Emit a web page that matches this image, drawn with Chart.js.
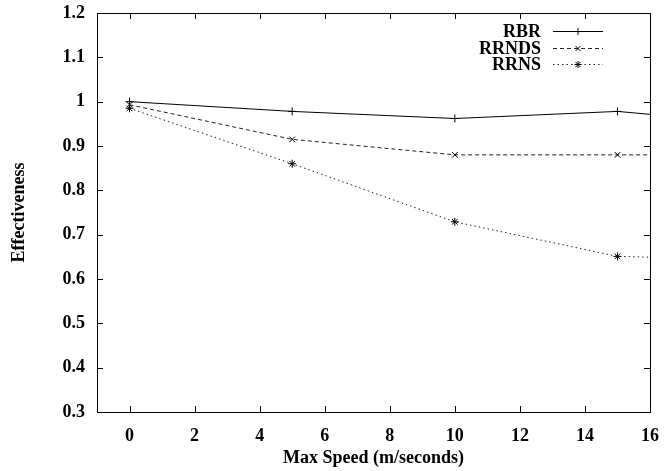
<!DOCTYPE html>
<html>
<head>
<meta charset="utf-8">
<script src="https://cdn.jsdelivr.net/npm/chart.js@4.4.1/dist/chart.umd.min.js"></script>
<style>
  html, body { margin: 0; padding: 0; background: #fff; }
  #wrap { width: 672px; height: 471px; }
</style>
</head>
<body>
<div id="wrap"><canvas id="myChart" width="672" height="471"></canvas></div>
<script>
// data (x = 20 is outside the axis, lines run out to the edge)
var speeds = [0, 5, 10, 15, 20]
var rbr = [1.0, 0.978, 0.962, 0.978, 0.945]
var rrnds = [0.993, 0.915, 0.88, 0.88, 0.88]
var rrns = [0.985, 0.86, 0.729, 0.651, 0.642]

var xTicks = [0, 2, 4, 6, 8, 10, 12, 14, 16]
var yTicks = [0.3, 0.4, 0.5, 0.6, 0.7, 0.8, 0.9, 1.0, 1.1, 1.2]

var font = 'Liberation Serif, Times New Roman, serif'

function pts(ys){
    return speeds.map((s, i) => ({x: s, y: ys[i]}))
}

var dataSets = [
    {label: 'RBR', data: pts(rbr), borderColor: '#000', borderDash: [], pointStyle: 'cross'},
    {label: 'RRNDS', data: pts(rrnds), borderColor: '#222', borderDash: [4, 3], pointStyle: 'crossRot'},
    {label: 'RRNS', data: pts(rrns), borderColor: '#222', borderDash: [1.5, 3], pointStyle: 'star'}
]
dataSets.forEach(d => {
    d.borderWidth = 1
    d.pointRadius = 4
    d.pointBorderWidth = 1
    d.pointBorderColor = '#000'
    d.pointBackgroundColor = 'transparent'
    d.fill = false
    d.tension = 0
})

// box round the plot and ticks pointing inward on every side
const frame = {
    id: 'frame',
    afterDraw(chart){
        const ctx = chart.ctx
        const a = chart.chartArea
        const x = chart.scales.x, y = chart.scales.y
        const L = 6
        ctx.save()
        ctx.strokeStyle = '#000'
        ctx.lineWidth = 1
        ctx.setLineDash([])
        ctx.strokeRect(a.left + 0.5, a.top + 0.5, a.right - a.left, a.bottom - a.top)
        ctx.beginPath()
        xTicks.forEach(v => {
            const px = Math.round(x.getPixelForValue(v)) + 0.5
            ctx.moveTo(px, a.bottom); ctx.lineTo(px, a.bottom - L)
            ctx.moveTo(px, a.top); ctx.lineTo(px, a.top + L)
        })
        yTicks.forEach(v => {
            const py = Math.round(y.getPixelForValue(v)) + 0.5
            ctx.moveTo(a.left, py); ctx.lineTo(a.left + L, py)
            ctx.moveTo(a.right, py); ctx.lineTo(a.right - L, py)
        })
        ctx.stroke()
        ctx.restore()
    }
}

// gnuplot style key: text on the left, line sample with marker on the right
const key = {
    id: 'key',
    afterDraw(chart){
        const ctx = chart.ctx
        const textRight = 541, lineL = 553, lineR = 603, top = 31, step = 16.5
        ctx.save()
        ctx.font = 'bold 18px ' + font
        ctx.textAlign = 'right'
        ctx.textBaseline = 'middle'
        ctx.fillStyle = '#000'
        chart.data.datasets.forEach((d, i) => {
            const yy = Math.round(top + i * step) + 0.5
            ctx.fillText(d.label, textRight, yy + 1)
            ctx.strokeStyle = d.borderColor
            ctx.lineWidth = 1
            ctx.setLineDash(d.borderDash)
            ctx.beginPath()
            ctx.moveTo(lineL, yy); ctx.lineTo(lineR, yy)
            ctx.stroke()
            ctx.setLineDash([])
            ctx.strokeStyle = '#000'
            Chart.helpers.drawPoint(ctx, {pointStyle: d.pointStyle, radius: 3.5, rotation: 0, borderWidth: 1}, (lineL + lineR) / 2, yy)
        })
        ctx.restore()
    }
}

const ctx = document.getElementById('myChart')

new Chart(ctx, {
    type: 'line',
    data: {datasets: dataSets},
    plugins: [frame, key],
    options: {
        responsive: false,
        animation: false,
        layout: {padding: {top: 13, right: 22, left: 0, bottom: 0}},
        plugins: {legend: {display: false}, tooltip: {enabled: false}},
        scales: {
            x: {
                type: 'linear',
                min: -1,
                max: 16,
                afterBuildTicks: s => { s.ticks = xTicks.map(v => ({value: v})) },
                afterFit: s => { s.height = 59; s.paddingRight = 0 },
                grid: {display: false, drawTicks: false},
                border: {display: false},
                ticks: {color: '#000', padding: 14, font: {family: font, size: 18, weight: 'bold'}, maxRotation: 0},
                title: {display: true, text: 'Max Speed (m/seconds)', color: '#000', padding: {top: 0, bottom: 2},
                    font: {family: font, size: 18, weight: 'bold'}}
            },
            y: {
                min: 0.3,
                max: 1.2,
                afterBuildTicks: s => { s.ticks = yTicks.map(v => ({value: v})) },
                afterFit: s => { s.width = 97; s.paddingTop = 0; s.paddingBottom = 0 },
                grid: {display: false, drawTicks: false},
                border: {display: false},
                ticks: {color: '#000', padding: 12, font: {family: font, size: 18, weight: 'bold'},
                    callback: v => String(Math.round(v * 10) / 10)},
                title: {display: true, text: 'Effectiveness', color: '#000', padding: {top: 9, bottom: 0},
                    font: {family: font, size: 18, weight: 'bold'}}
            }
        }
    }
})
</script>
</body>
</html>
